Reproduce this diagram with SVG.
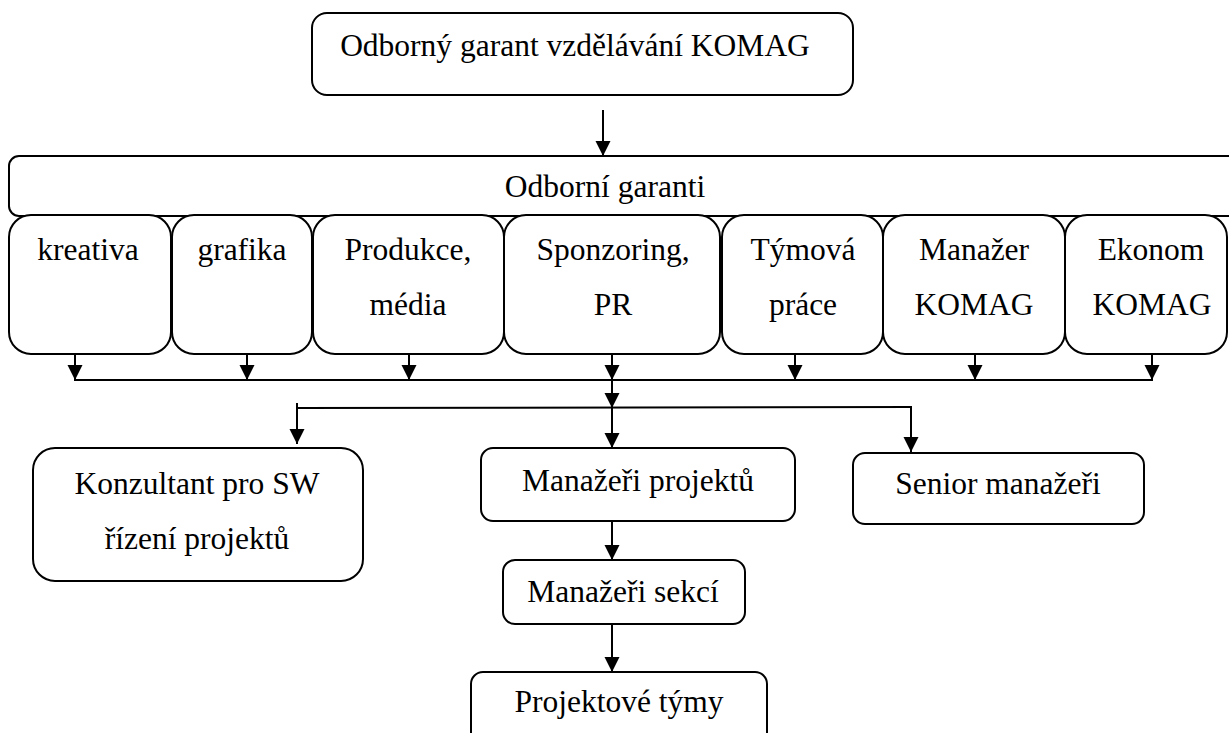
<svg xmlns="http://www.w3.org/2000/svg" width="1229" height="733" viewBox="0 0 1229 733">
<style>
.box{fill:#fff;stroke:#000;stroke-width:2}
.t{font-size:31.5px;fill:#000;text-anchor:middle}
.c{fill:none;stroke:#000;stroke-width:2}
</style>
<defs>
<marker id="ah" markerUnits="userSpaceOnUse" markerWidth="16" markerHeight="16" refX="15" refY="7.5" orient="auto">
<path d="M0,0 L15,7.5 L0,15 z" fill="#000"/>
</marker>
</defs>
<rect width="1229" height="733" fill="#fff"/>
<g font-family="Liberation Serif, Times New Roman, serif">
<g id="top"><rect class="box" x="312" y="13" width="541" height="82" rx="15"/><text class="t" x="575" y="56">Odborný garant vzdělávání KOMAG</text></g>
<g id="garanti"><rect class="box" x="9" y="156" width="1240" height="60" rx="10"/><text class="t" x="605" y="197">Odborní garanti</text></g>
<g id="kreativa"><rect class="box" x="9" y="215" width="162" height="139" rx="22"/><text class="t" x="88" y="260">kreativa</text></g>
<g id="grafika"><rect class="box" x="172" y="215" width="140" height="139" rx="22"/><text class="t" x="242" y="260">grafika</text></g>
<g id="produkce"><rect class="box" x="313" y="215" width="191" height="139" rx="22"/><text class="t" x="408" y="260">Produkce,</text><text class="t" x="408" y="315">média</text></g>
<g id="sponzoring"><rect class="box" x="504" y="215" width="216" height="139" rx="22"/><text class="t" x="613" y="260">Sponzoring,</text><text class="t" x="613" y="315">PR</text></g>
<g id="tymova"><rect class="box" x="722" y="215" width="161" height="139" rx="22"/><text class="t" x="803" y="260">Týmová</text><text class="t" x="803" y="315">práce</text></g>
<g id="manazer"><rect class="box" x="883" y="215" width="182" height="139" rx="22"/><text class="t" x="974" y="260">Manažer</text><text class="t" x="974" y="315">KOMAG</text></g>
<g id="ekonom"><rect class="box" x="1065" y="215" width="162" height="139" rx="22"/><text class="t" x="1151" y="260">Ekonom</text><text class="t" x="1152" y="315">KOMAG</text></g>
<g id="konzultant"><rect class="box" x="33" y="448" width="330" height="133" rx="22"/><text class="t" x="197" y="494">Konzultant pro SW</text><text class="t" x="197" y="549">řízení projektů</text></g>
<g id="manazeri-projektu"><rect class="box" x="481" y="448" width="314" height="73" rx="12"/><text class="t" x="638" y="491">Manažeři projektů</text></g>
<g id="senior"><rect class="box" x="853" y="453" width="291" height="71" rx="12"/><text class="t" x="998" y="494">Senior manažeři</text></g>
<g id="manazeri-sekci"><rect class="box" x="503" y="560" width="242" height="64" rx="12"/><text class="t" x="623" y="602">Manažeři sekcí</text></g>
<g id="projektove-tymy"><rect class="box" x="471" y="672" width="296" height="80" rx="12"/><text class="t" x="619" y="712">Projektové týmy</text></g>
</g>
<g id="connectors">
<line class="c" x1="603" y1="110" x2="603" y2="156" marker-end="url(#ah)"/>
<line class="c" x1="75" y1="354" x2="75" y2="380" marker-end="url(#ah)"/>
<line class="c" x1="247" y1="354" x2="247" y2="380" marker-end="url(#ah)"/>
<line class="c" x1="409" y1="354" x2="409" y2="380" marker-end="url(#ah)"/>
<line class="c" x1="612" y1="354" x2="612" y2="380" marker-end="url(#ah)"/>
<line class="c" x1="795" y1="354" x2="795" y2="380" marker-end="url(#ah)"/>
<line class="c" x1="975" y1="354" x2="975" y2="380" marker-end="url(#ah)"/>
<line class="c" x1="1152" y1="354" x2="1152" y2="380" marker-end="url(#ah)"/>
<line class="c" x1="74" y1="380" x2="1153" y2="380"/>
<line class="c" x1="612" y1="380" x2="612" y2="408" marker-end="url(#ah)"/>
<line class="c" x1="297" y1="408" x2="912" y2="407"/>
<line class="c" x1="297" y1="403" x2="297" y2="444" marker-end="url(#ah)"/>
<line class="c" x1="612" y1="408" x2="612" y2="448" marker-end="url(#ah)"/>
<line class="c" x1="911" y1="407" x2="911" y2="452" marker-end="url(#ah)"/>
<line class="c" x1="612" y1="521" x2="612" y2="560" marker-end="url(#ah)"/>
<line class="c" x1="612" y1="624" x2="612" y2="672" marker-end="url(#ah)"/>
</g>
</svg>
